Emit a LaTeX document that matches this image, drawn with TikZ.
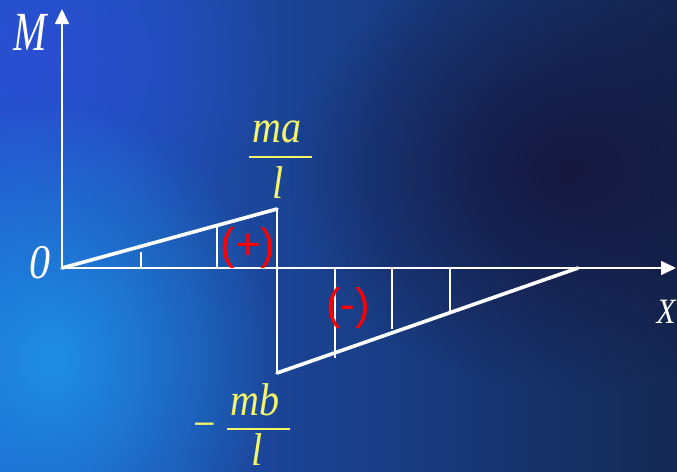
\documentclass[tikz,border=0pt]{standalone}
\usepackage{fontspec}
\setmainfont{Liberation Serif}
\newfontfamily\signfont{Liberation Sans}
\usepackage{graphicx}
\usetikzlibrary{arrows.meta,fadings}

\definecolor{bgleft}{RGB}{32,88,198}
\definecolor{bgright}{RGB}{20,40,82}
\definecolor{glowblue}{RGB}{30,142,228}
\definecolor{glowtop}{RGB}{42,78,210}
\definecolor{deepnavy}{RGB}{21,23,62}
\definecolor{fracyellow}{RGB}{245,245,105}
\definecolor{signred}{RGB}{255,0,0}

\tikzfading[name=softglow, inner color=transparent!0, outer color=transparent!100]

\newcommand{\tallit}[2][1.15]{\scalebox{1}[#1]{\itshape #2}}

\tikzset{
  axisline/.style={white, line width=1.7pt, -{Triangle[length=15pt,width=14pt]}},
  momentline/.style={white, line width=3.6pt, line cap=round},
  hatchline/.style={white, line width=1.6pt},
  axislabel/.style={white, inner sep=0pt, font=\fontsize{40}{40}\selectfont},
  fraclabel/.style={fracyellow, inner sep=0pt, font=\fontsize{40}{40}\selectfont},
  fracbar/.style={fracyellow, line width=1.4pt},
  signlabel/.style={signred, inner sep=0pt, font=\fontsize{44}{44}\selectfont\signfont},
}

\begin{document}
\begin{tikzpicture}[x=1pt,y=-1pt]
  \useasboundingbox (0,0) rectangle (677,471);
  % background
  \shade[left color=bgleft, right color=bgright] (0,0) rectangle (677,471);
  \begin{scope}
    \clip (0,0) rectangle (677,471);
    \fill[glowtop, path fading=softglow] (40,60) ellipse (240 and 220);
    \fill[glowblue, path fading=softglow] (50,360) ellipse (230 and 260);
    \fill[deepnavy, path fading=softglow] (570,170) ellipse (280 and 220);
  \end{scope}

  % axes
  \coordinate (O) at (62,268);
  \coordinate (Mtip) at (62,9);
  \coordinate (Xtip) at (676,268);
  \draw[axisline] (O) -- (Mtip);
  \draw[axisline] (O) -- (Xtip);

  % moment diagram
  \coordinate (P) at (277,209);
  \coordinate (Q) at (277,373);
  \coordinate (E) at (578,268);
  \draw[hatchline] (141,268) -- (141,252);
  \draw[hatchline] (217,268) -- (217,225);
  \draw[hatchline] (P) -- (Q);
  \draw[hatchline] (335,268) -- (335,358);
  \draw[hatchline] (392,268) -- (392,329);
  \draw[hatchline] (450,268) -- (450,312);
  \draw[momentline] (O) -- (P);
  \draw[momentline] (Q) -- (E);

  % labels
  \node[axislabel, anchor=base] (Mlabel) at (30,50) {\tallit[1.38]{M}};
  \node[axislabel, anchor=base, font=\fontsize{42}{42}\selectfont] (Olabel) at (40,278) {\tallit{0}};
  \node[axislabel, anchor=base, font=\fontsize{31}{31}\selectfont] (Xlabel) at (666,323) {\tallit{X}};

  \node[fraclabel, anchor=base] (ma) at (277,142) {\tallit{ma}};
  \draw[fracbar] (249,157) -- (312,157);
  \node[fraclabel, anchor=base] (lpos) at (278,198) {\tallit{l}};

  \node[fraclabel, anchor=base] (minus) at (205,439) {\scalebox{1}[1.15]{\char"2212}};
  \node[fraclabel, anchor=base] (mb) at (255,415) {\tallit{mb}};
  \draw[fracbar] (227,429) -- (290,429);
  \node[fraclabel, anchor=base] (lneg) at (257,465) {\tallit{l}};

  \node[signlabel] (plus) at (248,248) {(+)};
  \node[signlabel] (neg) at (348,308) {(-)};
\end{tikzpicture}
\end{document}
